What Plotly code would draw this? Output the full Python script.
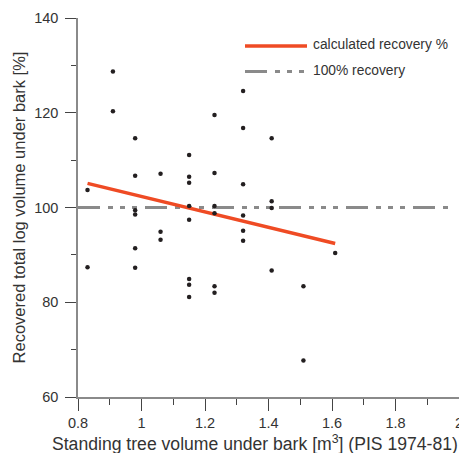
import plotly.graph_objects as go

# Standing tree volume (m3) for each sampled stand, with the recovered log volume (%) values
volume = [0.83, 0.83,
          0.91, 0.91,
          0.98, 0.98, 0.98, 0.98, 0.98, 0.98,
          1.06, 1.06, 1.06,
          1.15, 1.15, 1.15, 1.15, 1.15, 1.15, 1.15, 1.15,
          1.23, 1.23, 1.23, 1.23, 1.23, 1.23,
          1.32, 1.32, 1.32, 1.32, 1.32, 1.32,
          1.41, 1.41, 1.41, 1.41,
          1.51, 1.51,
          1.61]
recovery = [103.7, 87.4,
            128.7, 120.3,
            114.6, 106.7, 99.4, 98.5, 91.4, 87.3,
            107.1, 94.9, 93.2,
            111.1, 106.5, 105.2, 100.3, 97.4, 84.9, 83.7, 81.1,
            119.5, 107.3, 100.3, 98.8, 83.4, 82.0,
            124.6, 116.8, 104.9, 98.3, 95.1, 93.0,
            114.6, 101.3, 99.9, 86.7,
            83.4, 67.7,
            90.4]

# Fitted recovery line end points
fit_x = [0.83, 1.61]
fit_y = [105.1, 92.4]

# Reference level of full recovery
ref_x = [0.8, 1.98]
ref_y = [100, 100]

x_ticks = [0.8, 1.0, 1.2, 1.4, 1.6, 1.8, 2.0]
x_labels = ["0.8", "1", "1.2", "1.4", "1.6", "1.8", "2"]
y_ticks = [60, 80, 100, 120, 140]

legend_names = ["calculated recovery %", "100% recovery"]
x_title = "Standing tree volume under bark [m<sup>3</sup>] (PIS 1974-81)"
y_title = "Recovered total log volume under bark [%]"

RED = "#ef4b24"
GRAY = "#8a8a8a"
INK = "#231f20"
TEXT = "#333333"
DASH = "22px,8px,5px,7px,5px,7px,5px,8px"
FONT = "Liberation Sans, Arial, sans-serif"

W, H = 459, 453
ML, MR, MT, MB = 78, 0, 18, 56
PW, PH = W - ML - MR, H - MT - MB


def px_to_paper(px, py):
    return (px - ML) / PW, (H - MB - py) / PH


fig = go.Figure()
fig.add_trace(go.Scatter(x=ref_x, y=ref_y, mode="lines",
                         line=dict(color=GRAY, width=3, dash=DASH),
                         name=legend_names[1], hoverinfo="skip"))
fig.add_trace(go.Scatter(x=fit_x, y=fit_y, mode="lines",
                         line=dict(color=RED, width=3.5),
                         name=legend_names[0]))
fig.add_trace(go.Scatter(x=volume, y=recovery, mode="markers",
                         marker=dict(color=INK, size=4.5),
                         name="stands"))

# Legend drawn as sample lines with text labels at the top right
legend_rows = [(46, legend_names[0], dict(color=RED, width=3.5)),
               (71.5, legend_names[1], dict(color=GRAY, width=3, dash=DASH))]
for py, label, ln in legend_rows:
    x0, y0 = px_to_paper(245, py)
    x1, _ = px_to_paper(307, py)
    fig.add_shape(type="line", xref="paper", yref="paper",
                  x0=x0, x1=x1, y0=y0, y1=y0, line=ln)
    tx, ty = px_to_paper(311, py - 1.5)
    fig.add_annotation(xref="paper", yref="paper", x=tx, y=ty,
                       text=label, showarrow=False, xanchor="left",
                       yanchor="middle",
                       font=dict(family=FONT, size=13.8, color=TEXT))

# x-axis title, set slightly left of the plot centre
tx, ty = px_to_paper(255, 443)
fig.add_annotation(xref="paper", yref="paper", x=tx, y=ty,
                   text=x_title, showarrow=False, xanchor="center",
                   yanchor="middle",
                   font=dict(family=FONT, size=17.6, color=TEXT))

axis_common = dict(showline=True, linecolor=GRAY, linewidth=1.5,
                   ticks="outside", tickcolor="#444444", tickwidth=1.2,
                   showgrid=False, zeroline=False, automargin=False,
                   tickfont=dict(family=FONT, size=14.5, color=TEXT))

fig.update_layout(
    width=W, height=H,
    margin=dict(l=ML, r=MR, t=MT, b=MB),
    paper_bgcolor="white", plot_bgcolor="white",
    showlegend=False,
    xaxis=dict(range=[0.8, 2.0], tickvals=x_ticks, ticktext=x_labels,
               ticklen=12, ticklabeloverflow="allow",
               minor=dict(dtick=0.1, tick0=0.8, ticks="outside", ticklen=6,
                          tickcolor="#444444", tickwidth=1.2),
               **axis_common),
    yaxis=dict(range=[60, 140], tickvals=y_ticks, ticklen=11,
               ticklabelstandoff=4,
               minor=dict(dtick=10, tick0=60, ticks="outside", ticklen=5,
                          tickcolor="#444444", tickwidth=1.2),
               title=dict(text=y_title,
                          font=dict(family=FONT, size=16.5, color=TEXT),
                          standoff=4),
               **axis_common),
)

fig.write_html("out.html")
